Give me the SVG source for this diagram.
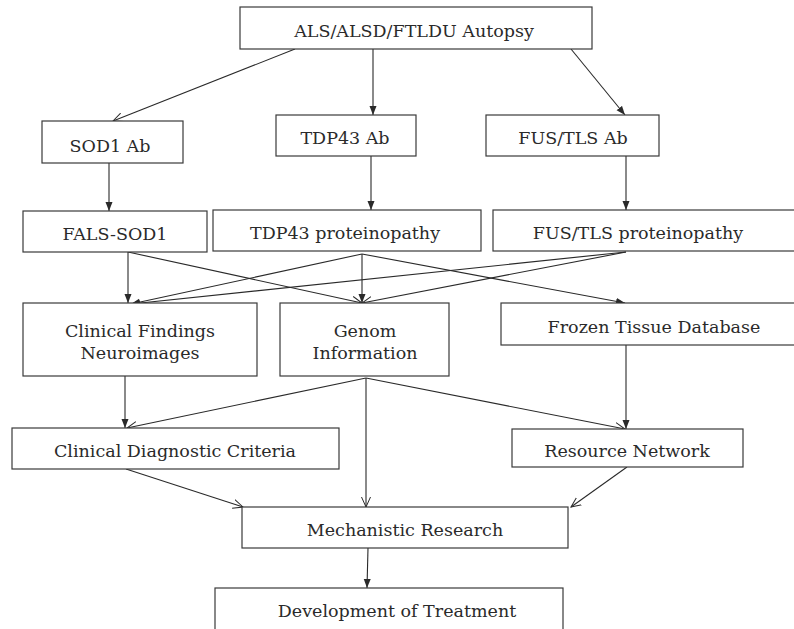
<svg xmlns="http://www.w3.org/2000/svg" width="794" height="629" viewBox="0 0 794 629">
<style>
.box{fill:#fff;stroke:#3a3a3a;stroke-width:1.2}
.t{font-family:"DejaVu Serif","Liberation Serif",serif;font-size:17.5px;fill:#2a2a2a;text-anchor:middle}
.c{fill:none;stroke:#2a2a2a;stroke-width:1.1}
.f{marker-end:url(#af)}
.o{marker-end:url(#ao)}
</style>
<defs>
<marker id="af" markerUnits="userSpaceOnUse" markerWidth="10" markerHeight="8" refX="9" refY="4" orient="auto">
<path d="M0,0.5 L9,4 L0,7.5 z" fill="#2a2a2a"/>
</marker>
<marker id="ao" markerUnits="userSpaceOnUse" markerWidth="12" markerHeight="12" refX="10" refY="6" orient="auto">
<path d="M0,1.5 L10,6 L0,10.5" fill="none" stroke="#2a2a2a" stroke-width="1"/>
</marker>
</defs>
<rect width="794" height="629" fill="#fff"/>
<g id="connectors">
<line class="c o" x1="295" y1="49" x2="113" y2="121"/>
<line class="c f" x1="373" y1="49" x2="373" y2="115"/>
<line class="c f" x1="571" y1="49" x2="625" y2="115"/>
<line class="c f" x1="109" y1="163" x2="109" y2="211"/>
<line class="c f" x1="371" y1="156" x2="371" y2="210"/>
<line class="c f" x1="626" y1="156" x2="626" y2="210"/>
<line class="c f" x1="128" y1="252" x2="128" y2="303"/>
<line class="c o" x1="128" y1="252" x2="362" y2="303"/>
<line class="c f" x1="362" y1="254" x2="131" y2="304"/>
<line class="c f" x1="362" y1="254" x2="362" y2="303"/>
<line class="c f" x1="362" y1="254" x2="625" y2="303"/>
<line class="c f" x1="626" y1="252" x2="131" y2="304"/>
<line class="c o" x1="626" y1="252" x2="362" y2="303"/>
<line class="c f" x1="125" y1="376" x2="125" y2="428"/>
<line class="c o" x1="366" y1="378" x2="127" y2="428"/>
<line class="c o" x1="366" y1="378" x2="366" y2="507"/>
<line class="c o" x1="366" y1="378" x2="625" y2="429"/>
<line class="c f" x1="626" y1="345" x2="626" y2="429"/>
<line class="c o" x1="126" y1="469" x2="243" y2="507"/>
<line class="c o" x1="627" y1="467" x2="571" y2="507"/>
<line class="c f" x1="368" y1="548" x2="367" y2="588"/>
</g>
<g id="n-als"><rect class="box" x="240" y="7" width="352" height="42"/><text class="t" x="414" y="37">ALS/ALSD/FTLDU Autopsy</text></g>
<g id="n-sod1ab"><rect class="box" x="42" y="121" width="141" height="42"/><text class="t" x="110" y="152">SOD1 Ab</text></g>
<g id="n-tdp43ab"><rect class="box" x="276" y="115" width="140" height="41"/><text class="t" x="345" y="144">TDP43 Ab</text></g>
<g id="n-fusab"><rect class="box" x="486" y="115" width="173" height="41"/><text class="t" x="573" y="144">FUS/TLS Ab</text></g>
<g id="n-falssod1"><rect class="box" x="23" y="211" width="184" height="41"/><text class="t" x="115" y="240">FALS-SOD1</text></g>
<g id="n-tdp43p"><rect class="box" x="213" y="210" width="268" height="41"/><text class="t" x="345" y="239">TDP43 proteinopathy</text></g>
<g id="n-fusp"><rect class="box" x="493" y="210" width="310" height="41"/><text class="t" x="638" y="239">FUS/TLS proteinopathy</text></g>
<g id="n-clinical"><rect class="box" x="23" y="303" width="234" height="73"/><text class="t" x="140" y="337">Clinical Findings</text><text class="t" x="140" y="359">Neuroimages</text></g>
<g id="n-genom"><rect class="box" x="280" y="303" width="169" height="73"/><text class="t" x="365" y="337">Genom</text><text class="t" x="365" y="359">Information</text></g>
<g id="n-frozen"><rect class="box" x="501" y="303" width="302" height="42"/><text class="t" x="654" y="333">Frozen Tissue Database</text></g>
<g id="n-cdc"><rect class="box" x="12" y="428" width="327" height="41"/><text class="t" x="175" y="457">Clinical Diagnostic Criteria</text></g>
<g id="n-resource"><rect class="box" x="512" y="429" width="231" height="38"/><text class="t" x="627" y="457">Resource Network</text></g>
<g id="n-mech"><rect class="box" x="242" y="507" width="326" height="41"/><text class="t" x="405" y="536">Mechanistic Research</text></g>
<g id="n-dev"><rect class="box" x="215" y="588" width="348" height="50"/><text class="t" x="397" y="617">Development of Treatment</text></g>
</svg>
